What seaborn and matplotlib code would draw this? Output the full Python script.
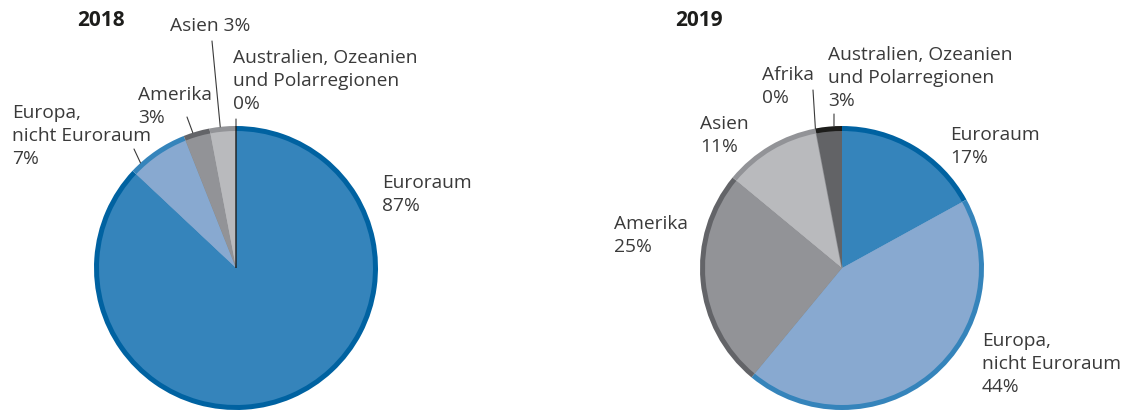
import numpy as np
import matplotlib.pyplot as plt
import seaborn as sns

# Anteile nach Regionen (in %)
regions_2018 = ["Euroraum", "Europa, nicht Euroraum", "Amerika", "Asien",
                "Australien, Ozeanien und Polarregionen"]
shares_2018 = [87, 7, 3, 3, 0]

regions_2019 = ["Euroraum", "Europa, nicht Euroraum", "Amerika", "Asien", "Afrika",
                "Australien, Ozeanien und Polarregionen"]
shares_2019 = [17, 44, 25, 11, 0, 3]

# Beschriftungen (Zeilenumbruch wie im Original)
label_names = {
    "Euroraum": "Euroraum",
    "Europa, nicht Euroraum": "Europa,\nnicht Euroraum",
    "Amerika": "Amerika",
    "Asien": "Asien",
    "Afrika": "Afrika",
    "Australien, Ozeanien und Polarregionen": "Australien, Ozeanien\nund Polarregionen",
}

fill_col = {
    "Euroraum": "#3584bb",
    "Europa, nicht Euroraum": "#88a9d0",
    "Amerika": "#929397",
    "Asien": "#b9babd",
    "Afrika": "#d0d0d2",
    "Australien, Ozeanien und Polarregionen": "#626366",
}
rim_col = {
    "Euroraum": "#0062a1",
    "Europa, nicht Euroraum": "#3584bb",
    "Amerika": "#636468",
    "Asien": "#929397",
    "Afrika": "#929397",
    "Australien, Ozeanien und Polarregionen": "#1d1d1b",
}

sns.set_theme(style="white")
plt.rcParams["font.family"] = ["Open Sans", "DejaVu Sans"]

W, H = 1121, 415
fig = plt.figure(figsize=(W / 100, H / 100), dpi=100)
ax = fig.add_axes([0, 0, 1, 1])

TXT = "#3a3a3a"
R = 142
RIM = 5

# label layout: text top-left (px), leader start (px) or None, position on wedge (0..1)
layout_2018 = {
    "Euroraum": ((382, 174), None, 0.5),
    "Europa, nicht Euroraum": ((12, 104), (134, 149), 0.82),
    "Amerika": ((138, 86), (187, 117), 0.64),
    "Asien": ((170, 17), (212, 41), 0.59),
    "Australien, Ozeanien und Polarregionen": ((233, 49), (236, 119), 0.0),
}
layout_2019 = {
    "Euroraum": ((950, 126), None, 0.5),
    "Europa, nicht Euroraum": ((982, 332), None, 0.5),
    "Amerika": ((614, 215), None, 0.5),
    "Asien": ((700, 115), None, 0.5),
    "Afrika": ((762, 66), (813, 90), 0.0),
    "Australien, Ozeanien und Polarregionen": ((828, 46), (834, 114), 0.3),
}


def draw_pie(regions, shares, cx, cy, title, title_x, layout, single_line=()):
    cy = H - cy
    edge = [rim_col[r] if s == 0 else "none" for r, s in zip(regions, shares)]
    outer, _ = ax.pie(shares, colors=[rim_col[r] for r in regions], radius=R,
                      center=(cx, cy), startangle=90, counterclock=False,
                      normalize=True)
    inner, _ = ax.pie(shares, colors=[fill_col[r] for r in regions], radius=R - RIM,
                      center=(cx, cy), startangle=90, counterclock=False,
                      normalize=True)
    for w_o, w_i, e in zip(outer, inner, edge):
        for w in (w_o, w_i):
            w.set_edgecolor(e)
            w.set_linewidth(1.0 if e != "none" else 0)

    for reg, share, w in zip(regions, shares, outer):
        (tx, ty), start, frac = layout[reg]
        name = label_names[reg]
        txt = f"{name} {share}%" if reg in single_line else f"{name}\n{share}%"
        ax.text(tx, H - ty, txt, ha="left", va="top", fontsize=13.8,
                color=TXT, linespacing=1.36)
        if start is not None:
            ang = np.deg2rad(w.theta1 + frac * (w.theta2 - w.theta1))
            px, py = cx + R * np.cos(ang), cy + R * np.sin(ang)
            ax.annotate("", xy=(px, py), xytext=(start[0], H - start[1]),
                        arrowprops=dict(arrowstyle="-", color=TXT, lw=0.8,
                                        shrinkA=0, shrinkB=0))

    ax.text(title_x, H - 10, title, ha="left", va="top", fontsize=15,
            fontweight="bold", color="#1d1d1b")


draw_pie(regions_2018, shares_2018, 236, 268, "2018", 77, layout_2018,
         single_line=("Asien",))
draw_pie(regions_2019, shares_2019, 842, 268, "2019", 675, layout_2019)

ax.set_xlim(0, W)
ax.set_ylim(0, H)
ax.set_aspect("equal")
ax.axis("off")

fig.savefig("out.png", dpi=100, facecolor="white")
